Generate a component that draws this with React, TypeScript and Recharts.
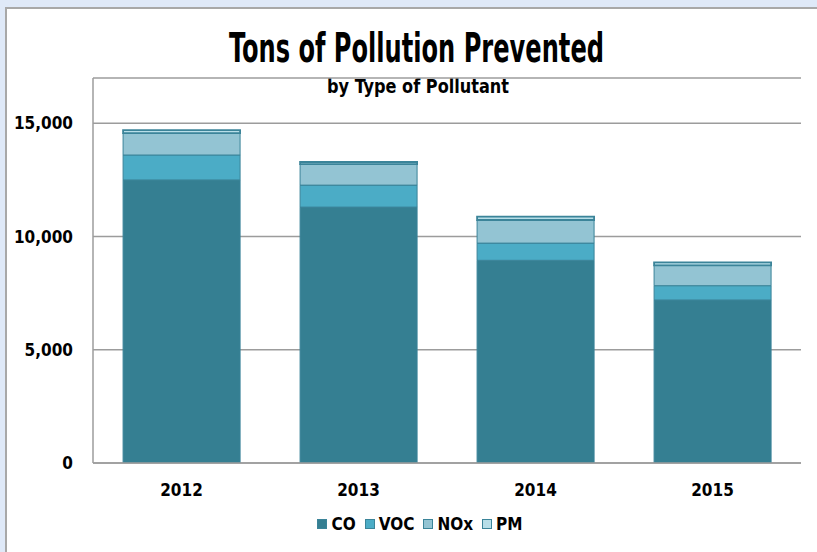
import React from "react";
import { BarChart, Bar, XAxis, YAxis, CartesianGrid } from "recharts";

const years = ["2012", "2013", "2014", "2015"];
const co = [12500, 11300, 8950, 7200];
const voc = [1100, 970, 760, 630];
const nox = [970, 930, 1020, 900];
const pm = [130, 90, 150, 130];
const yTicks = [0, 5000, 10000, 15000];

const series = [
  { key: "CO", fill: "#357f92", sw: 1 },
  { key: "VOC", fill: "#4bacc6", sw: 1 },
  { key: "NOx", fill: "#93c4d3", sw: 1 },
  { key: "PM", fill: "#b7dee8", sw: 1.8 },
];

const rows = years.map((y, i) => ({ year: y, CO: co[i], VOC: voc[i], NOx: nox[i], PM: pm[i] }));

const narrow = '"DejaVu Sans Condensed", "Liberation Sans", sans-serif';
const GRID = "#9c9c9c";
const EDGE = "#3b8499";

const tickStyle = { fontFamily: narrow, fontWeight: 700, fontSize: 17, fill: "#000" };

function LegendRow() {
  return (
    <div style={{ position: "absolute", left: 0, top: 513, width: 840, display: "flex", justifyContent: "center", gap: 9, fontFamily: narrow, fontWeight: 700, fontSize: 17, color: "#000", lineHeight: "22px" }}>
      {series.map((s) => (
        <div key={s.key} style={{ display: "flex", alignItems: "center", gap: 4 }}>
          <span style={{ display: "inline-block", width: 8, height: 8, background: s.fill, border: `1px solid ${EDGE}` }} />
          <span>{s.key}</span>
        </div>
      ))}
    </div>
  );
}

export default function App() {
  return (
    <div style={{ position: "absolute", left: 0, top: 0, width: 817, height: 552, background: "#dfe9f8", overflow: "hidden" }}>
      <div style={{ position: "absolute", left: 5, top: 7, right: 0, bottom: 0, background: "#fff", borderTop: "2px solid #a8a8a8", borderLeft: "2px solid #a8a8a8" }} />
      <svg width={817} height={110} style={{ position: "absolute", left: 0, top: 0 }}>
        <text x={229} y={62} textLength={375} lengthAdjust="spacingAndGlyphs" style={{ fontFamily: narrow, fontWeight: 700, fontSize: 40 }} fill="#000">
          Tons of Pollution Prevented
        </text>
        <text x={327} y={93} textLength={182} lengthAdjust="spacingAndGlyphs" style={{ fontFamily: narrow, fontWeight: 700, fontSize: 20 }} fill="#000">
          by Type of Pollutant
        </text>
      </svg>
      <div style={{ position: "absolute", left: 0, top: 0 }}>
        <BarChart width={817} height={552} data={rows} margin={{ top: 78, right: 16, bottom: 59, left: 0 }} barCategoryGap="17%">
          <CartesianGrid vertical={false} stroke={GRID} strokeWidth={1.5} />
          <XAxis dataKey="year" height={30} axisLine={{ stroke: GRID, strokeWidth: 1.5 }} tickLine={false} tickSize={0} tickMargin={21} tick={tickStyle} />
          <YAxis
            width={93}
            domain={[0, 17000]}
            ticks={yTicks}
            allowDataOverflow
            axisLine={{ stroke: GRID, strokeWidth: 1.5 }}
            tickLine={false}
            tickSize={0}
            tickMargin={20}
            tick={tickStyle}
            tickFormatter={(v: number) => v.toLocaleString("en-US")}
          />
          {series.map((s) => (
            <Bar key={s.key} dataKey={s.key} stackId="a" fill={s.fill} stroke={EDGE} strokeWidth={s.sw} isAnimationActive={false} />
          ))}
        </BarChart>
      </div>
      <LegendRow />
    </div>
  );
}
